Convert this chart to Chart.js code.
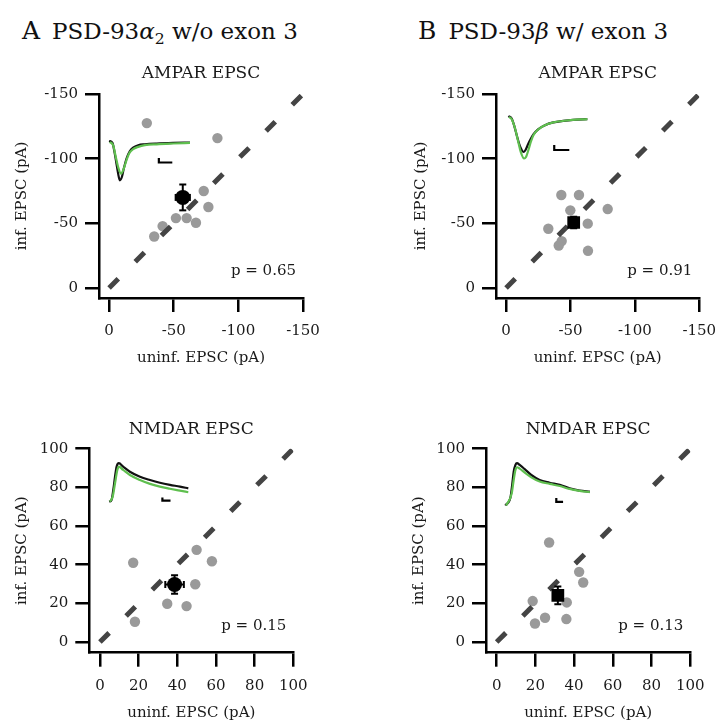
<!DOCTYPE html>
<html>
<head>
<meta charset="utf-8">
<script src="https://cdn.jsdelivr.net/npm/chart.js@4.4.0/dist/chart.umd.min.js"></script>
<style>
html, body { margin:0; padding:0; width:715px; height:720px; overflow:hidden; background:#fff; }
.cv { position:absolute; }
.head { position:absolute; font-family:"DejaVu Serif", serif; color:#111; white-space:nowrap; line-height:1; }
.head .L { font-size:25px; margin-right:12px; }
.head .T { font-size:23px; }
.head sub { font-size:0.68em; vertical-align:-0.3em; }
</style>
</head>
<body>
<div class="head" style="left:22px;top:18px"><span class="L">A</span><span class="T">PSD-93<i>α</i><sub>2</sub> w/o exon 3</span></div>
<div class="head" style="left:418px;top:18px"><span class="L">B</span><span class="T">PSD-93<i>β</i> w/ exon 3</span></div>
<canvas id="cA1" class="cv" width="357" height="325" style="left:0px;top:50px"></canvas>
<canvas id="cB1" class="cv" width="340" height="325" style="left:397px;top:50px"></canvas>
<canvas id="cA2" class="cv" width="357" height="325" style="left:0px;top:405px"></canvas>
<canvas id="cB2" class="cv" width="340" height="325" style="left:397px;top:405px"></canvas>
<script>
// ---------------- DATA (pA) ----------------
// Panel A, AMPAR EPSC (PSD-93alpha2 w/o exon 3)
const ampaA_uninf = [-29.2, -83.8, -73.2, -76.8, -51.7, -60.0, -67.2, -41.4, -34.9];
const ampaA_inf   = [-127.5, -115.9, -75.0, -62.6, -54.0, -54.0, -50.4, -47.8, -39.8];
const ampaA_mean  = [-57.0, -70.0];   // [uninf, inf]
const ampaA_sem   = [5.5, 10.0];      // [uninf, inf]
// Panel B, AMPAR EPSC (PSD-93beta w/ exon 3)
const ampaB_uninf = [-42.9, -56.6, -78.9, -49.9, -63.4, -32.8, -43.2, -40.9, -63.6];
const ampaB_inf   = [-71.9, -71.9, -61.0, -60.0, -49.7, -45.8, -36.2, -32.8, -28.7];
const ampaB_mean  = [-52.5, -50.6];
const ampaB_sem   = [3.5, 4.5];
// Panel A, NMDAR EPSC
const nmdaA_uninf = [17.2, 50.0, 57.9, 49.3, 34.8, 44.8, 18.1];
const nmdaA_inf   = [41.0, 47.7, 41.8, 29.9, 19.8, 18.6, 10.5];
const nmdaA_mean  = [38.6, 29.8];
const nmdaA_sem   = [4.8, 4.8];
// Panel B, NMDAR EPSC
const nmdaB_uninf = [27.1, 42.6, 44.7, 18.6, 36.2, 25.0, 36.0, 19.8];
const nmdaB_inf   = [51.5, 36.3, 30.8, 21.2, 20.5, 12.6, 11.9, 9.6];
const nmdaB_mean  = [31.6, 24.1];
const nmdaB_sem   = [2.0, 4.6];

const pValues = ['0.65', '0.91', '0.15', '0.13'];
const panelTitles = ['AMPAR EPSC', 'AMPAR EPSC', 'NMDAR EPSC', 'NMDAR EPSC'];

// Example inset traces (in each panel's axis units)
// black = uninfected, green = infected
const ampaA_trUninfX = [0, -2.6, -4.4, -5.7, -7.0, -8.3, -9.9, -11.4, -13.5, -16.1, -18.6, -22.5, -27.7, -36.8, -49.6, -62.6];
const ampaA_trUninfY = [-113.7, -112.2, -103.9, -96.2, -88.4, -83.2, -85.8, -92.3, -100.1, -105.9, -108.6, -110.4, -111.1, -111.7, -112.2, -112.5];
const ampaA_trInfX   = [-0.5, -3.1, -5.2, -7.0, -9.3, -10.9, -13.0, -15.5, -18.6, -22.5, -27.7, -36.8, -49.6, -62.6];
const ampaA_trInfY   = [-112.9, -110.4, -101.3, -93.5, -88.4, -91.0, -97.4, -103.9, -107.3, -109.1, -110.4, -111.1, -111.7, -112.2];
const ampaA_barX = [-38.5, -38.5, -48.9];
const ampaA_barY = [-100.5, -97.0, -97.0];

const ampaB_trUninfX = [-1.8, -4.4, -6.2, -8.3, -10.1, -11.6, -13.4, -15.0, -16.5, -18.6, -21.2, -25.1, -30.2, -36.7, -44.4, -52.2, -63.1];
const ampaB_trUninfY = [-132.9, -131.1, -125.9, -118.1, -111.7, -107.8, -105.2, -106.5, -109.8, -114.2, -118.7, -122.8, -125.9, -128.0, -129.2, -130.0, -130.5];
const ampaB_trInfX   = [-2.3, -4.4, -7.0, -9.5, -11.4, -14.0, -15.5, -17.3, -19.2, -21.2, -24.3, -29.0, -36.7, -47.1, -57.4, -63.1];
const ampaB_trInfY   = [-132.3, -130.5, -123.3, -112.9, -105.2, -100.1, -101.3, -106.5, -112.9, -118.1, -122.0, -125.3, -128.0, -129.5, -130.3, -130.5];
const ampaB_barX = [-37.4, -37.4, -49.1];
const ampaB_barY = [-110.6, -106.7, -106.7];

const nmdaA_trUninfX = [4.8, 6.0, 6.9, 7.8, 8.6, 9.8, 12.0, 15.5, 20.7, 25.9, 31.0, 36.2, 41.4, 45.7];
const nmdaA_trUninfY = [72.6, 73.5, 78.7, 85.5, 90.7, 92.5, 90.7, 88.1, 85.5, 83.8, 82.4, 81.3, 80.4, 79.5];
const nmdaA_trInfX   = [5.2, 6.6, 7.8, 9.0, 9.8, 12.0, 15.5, 20.7, 25.9, 31.0, 36.2, 41.4, 45.7];
const nmdaA_trInfY   = [72.6, 75.2, 82.1, 89.0, 90.7, 89.0, 86.4, 83.8, 81.8, 80.4, 79.3, 78.3, 77.5];
const nmdaA_barX = [32.3, 32.3, 36.5];
const nmdaA_barY = [74.8, 73.1, 73.1];

const nmdaB_trUninfX = [4.5, 7.2, 8.1, 8.8, 9.7, 10.5, 11.9, 14.5, 17.9, 22.2, 27.4, 32.6, 37.7, 42.9, 48.1];
const nmdaB_trUninfY = [70.6, 75.2, 82.1, 88.1, 91.6, 92.5, 91.6, 89.4, 86.4, 83.8, 82.4, 81.3, 79.5, 78.3, 77.8];
const nmdaB_trInfX   = [4.9, 7.8, 8.8, 9.7, 10.5, 11.9, 14.5, 17.9, 22.2, 27.4, 32.6, 37.7, 42.9, 48.1];
const nmdaB_trInfY   = [70.6, 77.0, 83.8, 89.0, 90.4, 89.7, 87.6, 85.2, 83.0, 81.8, 80.7, 79.2, 78.2, 77.5];
const nmdaB_barX = [30.8, 30.8, 34.3];
const nmdaB_barY = [74.5, 72.5, 72.5];

// axes
const ampaTicks = [0, -50, -100, -150];
const ampaLimits = [-150, 7.8];
const nmdaTicks = [0, 20, 40, 60, 80, 100];
const nmdaLimits = [-5.5, 100];
const unityAmpa = [0, -150];
const unityNmda = [0, 100];

// ---------------- RENDERING ----------------
const FONT = '"DejaVu Serif", serif';
const TXT = '#1a1a1a';
const GREY = '#9a9a9a';
const GREEN = '#5fbf4f';

const zip = (xs, ys) => xs.map((x, i) => ({x, y: ys[i]}));

// panel title (centred over the plot area) and p-value annotation
const textPlugin = {
  id: 'panelText',
  afterDatasetsDraw(chart, args, opts) {
    const {ctx, chartArea} = chart;
    ctx.save();
    ctx.fillStyle = TXT;
    ctx.textBaseline = 'middle';
    ctx.font = '15px ' + FONT;
    ctx.textAlign = 'right';
    ctx.fillText('p = ' + opts.pval, chartArea.right - opts.dx, chartArea.bottom - opts.dy);
    ctx.font = '17px ' + FONT;
    ctx.textAlign = 'center';
    ctx.fillText(opts.title, (chartArea.left + chartArea.right) / 2, chartArea.top - opts.titleOff);
    ctx.restore();
  }
};

function panel(id, p) {
  const rev = p.reverse;
  const markerStyle = p.square ? 'rect' : 'circle';
  const mx = p.mean[0], my = p.mean[1], sx = p.sem[0], sy = p.sem[1];
  const datasets = [
    { // mean marker
      data: [{x: mx, y: my}], showLine: false, order: 0,
      pointStyle: markerStyle, pointRadius: p.square ? 9 : 7.5,
      backgroundColor: '#000', borderColor: '#000', borderWidth: 0
    },
    { // vertical error bar
      data: [{x: mx, y: my - sy}, {x: mx, y: my + sy}], showLine: true, order: 1,
      borderColor: '#000', borderWidth: 2, pointStyle: 'line', pointRadius: 3.5,
      pointBorderWidth: 2, pointBorderColor: '#000', pointRotation: 0
    },
    { // horizontal error bar
      data: [{x: mx - sx, y: my}, {x: mx + sx, y: my}], showLine: true, order: 1,
      borderColor: '#000', borderWidth: 2, pointStyle: 'line', pointRadius: 3.5,
      pointBorderWidth: 2, pointBorderColor: '#000', pointRotation: 90
    },
    { // scale bar
      data: zip(p.barX, p.barY), showLine: true, order: 2, pointRadius: 0,
      borderColor: '#000', borderWidth: 2.2, borderCapStyle: 'butt', borderJoinStyle: 'miter'
    },
    { // unity line
      data: zip(p.unity, p.unity), showLine: true, order: 3, pointRadius: 0,
      borderColor: '#444', borderWidth: 5, borderDash: [13, 24], borderCapStyle: 'butt'
    },
    { // individual cells
      data: zip(p.ux, p.iy), showLine: false, order: 4,
      pointStyle: 'circle', pointRadius: 5.2, backgroundColor: GREY, borderWidth: 0
    },
    { // infected trace (green)
      data: zip(p.trIX, p.trIY), showLine: true, order: 5, pointRadius: 0,
      borderColor: GREEN, borderWidth: 2.2, cubicInterpolationMode: 'monotone'
    },
    { // uninfected trace (black)
      data: zip(p.trUX, p.trUY), showLine: true, order: 6, pointRadius: 0,
      borderColor: '#111', borderWidth: 2.2, cubicInterpolationMode: 'monotone'
    }
  ];
  const axisCommon = (ticks) => ({
    type: 'linear',
    reverse: rev,
    grid: { drawOnChartArea: false, drawTicks: true, tickLength: 14, color: '#000', lineWidth: 2.5, tickWidth: 2.5 },
    border: { display: true, color: '#000', width: 2.5 },
    afterBuildTicks: (ax) => { ax.ticks = ticks.map(v => ({value: v})); },
  });
  new Chart(document.getElementById(id), {
    type: 'scatter',
    data: { datasets },
    options: {
      responsive: false, animation: false, devicePixelRatio: 1,
      layout: { padding: { left: 0, top: p.top, right: p.padRight, bottom: 0 } },
      plugins: {
        legend: { display: false }, tooltip: { enabled: false }, title: { display: false },
        panelText: { pval: p.pval, title: p.title, dx: 7, dy: 27, titleOff: p.titleOff }
      },
      scales: {
        x: Object.assign(axisCommon(p.ticks), {
          min: p.limits[0], max: p.limits[1],
          ticks: { autoSkip: false, maxRotation: 0, padding: 10, color: TXT, font: { family: FONT, size: 15 },
                   callback: (v) => String(v) },
          title: { display: true, text: 'uninf. EPSC (pA)', color: TXT, font: { family: FONT, size: 15 },
                   padding: { top: 0, bottom: 8 } },
          afterFit: (s) => { s.height = p.xH; }
        }),
        y: Object.assign(axisCommon(p.ticks), {
          min: p.limits[0], max: p.limits[1],
          ticks: { autoSkip: false, padding: 7, color: TXT, font: { family: FONT, size: 15 },
                   callback: (v) => String(v) },
          title: { display: true, text: 'inf. EPSC (pA)', color: TXT, font: { family: FONT, size: 15 },
                   padding: { top: p.yTitle, bottom: 0 } },
          afterFit: (s) => { s.width = p.yW; }
        })
      }
    },
    plugins: [textPlugin]
  });
}

panel('cA1', { reverse: true, ticks: ampaTicks, limits: ampaLimits, unity: unityAmpa, title: panelTitles[0],
  ux: ampaA_uninf, iy: ampaA_inf, mean: ampaA_mean, sem: ampaA_sem, square: false, pval: pValues[0],
  trUX: ampaA_trUninfX, trUY: ampaA_trUninfY, trIX: ampaA_trInfX, trIY: ampaA_trInfY, barX: ampaA_barX, barY: ampaA_barY,
  yW: 99, xH: 77, padRight: 54, top: 44, titleOff: 20, yTitle: 13.5 });
panel('cB1', { reverse: true, ticks: ampaTicks, limits: ampaLimits, unity: unityAmpa, title: panelTitles[1],
  ux: ampaB_uninf, iy: ampaB_inf, mean: ampaB_mean, sem: ampaB_sem, square: true, pval: pValues[1],
  trUX: ampaB_trUninfX, trUY: ampaB_trUninfY, trIX: ampaB_trInfX, trIY: ampaB_trInfY, barX: ampaB_barX, barY: ampaB_barY,
  yW: 99, xH: 77, padRight: 37.7, top: 44, titleOff: 20, yTitle: 14.8 });
panel('cA2', { reverse: false, ticks: nmdaTicks, limits: nmdaLimits, unity: unityNmda, title: panelTitles[2],
  ux: nmdaA_uninf, iy: nmdaA_inf, mean: nmdaA_mean, sem: nmdaA_sem, square: false, pval: pValues[2],
  trUX: nmdaA_trUninfX, trUY: nmdaA_trUninfY, trIX: nmdaA_trInfX, trIY: nmdaA_trInfY, barX: nmdaA_barX, barY: nmdaA_barY,
  yW: 89.3, xH: 77.3, padRight: 63.7, top: 43.7, titleOff: 18.7, yTitle: 12.7 });
panel('cB2', { reverse: false, ticks: nmdaTicks, limits: nmdaLimits, unity: unityNmda, title: panelTitles[3],
  ux: nmdaB_uninf, iy: nmdaB_inf, mean: nmdaB_mean, sem: nmdaB_sem, square: true, pval: pValues[3],
  trUX: nmdaB_trUninfX, trUY: nmdaB_trUninfY, trIX: nmdaB_trInfX, trIY: nmdaB_trInfY, barX: nmdaB_barX, barY: nmdaB_barY,
  yW: 89, xH: 77.3, padRight: 46.7, top: 43.7, titleOff: 18.7, yTitle: 13.2 });
</script>
</body>
</html>
